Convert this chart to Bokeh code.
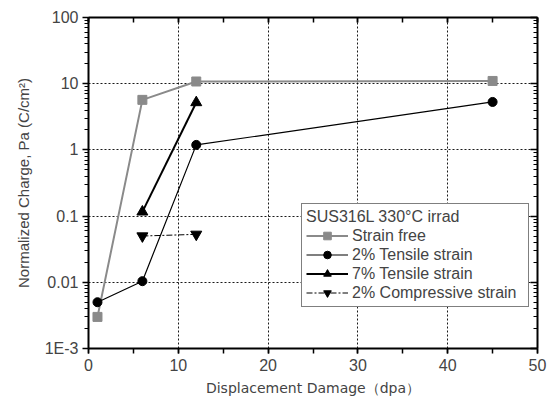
from bokeh.plotting import figure
from bokeh.models import (LogAxis, LinearAxis, FixedTicker, SingleIntervalTicker,
                          Legend, LegendItem, Range1d, CustomJSTickFormatter)
from bokeh.embed import file_html
from bokeh.resources import INLINE

# Normalized charge Pa (C/cm^2) vs displacement damage (dpa), SUS316L irradiated at 330 C
free_dpa = [1, 6, 12, 45]
free_pa = [0.003, 5.7, 10.8, 11.0]

tens2_dpa = [1, 6, 12, 45]
tens2_pa = [0.005, 0.0104, 1.19, 5.3]

tens7_dpa = [6, 12]
tens7_pa = [0.116, 5.2]

comp2_dpa = [6, 12]
comp2_pa = [0.050, 0.053]

y_ticks = [0.001, 0.01, 0.1, 1, 10, 100]
y_tick_labels = ["1E-3", "0.01", "0.1", "1", "10", "100"]

legend_title = "SUS316L 330°C irrad"
series_names = ["Strain free", "2% Tensile strain", "7% Tensile strain", "2% Compressive strain"]

y_minor = [m * 10.0 ** e for e in range(-3, 2) for m in range(2, 10)]

p = figure(width=551, height=405, output_backend="svg", toolbar_location=None,
           y_axis_type="log", x_range=Range1d(0, 50), y_range=Range1d(0.001, 100),
           min_border_left=88, min_border_right=14, min_border_top=17, min_border_bottom=57)
p.outline_line_color = None
p.background_fill_color = "white"

TICK_FONT = "Liberation Sans"
TITLE_FONT = "DejaVu Sans"

# bottom axis
xa = p.xaxis[0]
xa.ticker = SingleIntervalTicker(interval=10, num_minor_ticks=2)
xa.axis_label = "Displacement Damage（dpa）"
xa.axis_label_text_font = TITLE_FONT
xa.axis_label_text_font_style = "normal"
xa.axis_label_text_font_size = "14px"
xa.axis_label_standoff = 6
xa.major_label_text_font = TICK_FONT
xa.major_label_text_font_size = "16px"
xa.major_label_standoff = 5
xa.major_tick_in = 0
xa.major_tick_out = 5
xa.minor_tick_in = 0
xa.minor_tick_out = 5
xa.axis_line_width = 2
xa.major_tick_line_width = 1.5
xa.minor_tick_line_width = 1.5

# left axis
ya = p.yaxis[0]
ya.ticker = FixedTicker(ticks=y_ticks, minor_ticks=y_minor)
ya.major_label_overrides = {t: l for t, l in zip(y_ticks, y_tick_labels)}
ya.axis_label = "Normalized Charge, Pa (C/cm²)"
ya.axis_label_text_font = TICK_FONT
ya.axis_label_text_font_style = "normal"
ya.axis_label_text_font_size = "15px"
ya.axis_label_standoff = 10
ya.major_label_text_font = TICK_FONT
ya.major_label_text_font_size = "16px"
ya.major_label_standoff = 4
ya.major_tick_in = 0
ya.major_tick_out = 6
ya.minor_tick_in = 0
ya.minor_tick_out = 4
ya.axis_line_width = 2
ya.major_tick_line_width = 1.5

# top and right frame axes with inward ticks and no labels
top = LinearAxis(ticker=SingleIntervalTicker(interval=10, num_minor_ticks=2),
                 formatter=CustomJSTickFormatter(code="return ''"), major_label_standoff=0,
                 major_tick_in=5, major_tick_out=0,
                 minor_tick_in=5, minor_tick_out=0, axis_line_width=2,
                 major_tick_line_width=1.5, minor_tick_line_width=1.5)
p.add_layout(top, "above")
right = LogAxis(ticker=FixedTicker(ticks=y_ticks, minor_ticks=y_minor),
                formatter=CustomJSTickFormatter(code="return ''"), major_label_standoff=0,
                major_tick_in=7, major_tick_out=0,
                minor_tick_in=4, minor_tick_out=0, axis_line_width=2,
                major_tick_line_width=1.5, minor_tick_line_width=1.2)
p.add_layout(right, "right")

# dotted grid
p.xgrid.ticker = FixedTicker(ticks=[10, 20, 30, 40])
p.ygrid.ticker = FixedTicker(ticks=[0.01, 0.1, 1, 10])
for g in (p.xgrid[0], p.ygrid[0]):
    g.grid_line_color = "black"
    g.grid_line_dash = "2 2"
    g.grid_line_width = 1
    g.grid_line_alpha = 0.9

GRAY = "#8a8a8a"

l1 = p.line(free_dpa, free_pa, line_color=GRAY, line_width=2)
s1 = p.scatter(free_dpa, free_pa, marker="square", size=9, fill_color=GRAY, line_color=GRAY)

l2 = p.line(tens2_dpa, tens2_pa, line_color="black", line_width=1.2)
s2 = p.scatter(tens2_dpa, tens2_pa, marker="circle", size=9, fill_color="black", line_color="black")

l3 = p.line(tens7_dpa, tens7_pa, line_color="black", line_width=2)
s3 = p.scatter(tens7_dpa, tens7_pa, marker="triangle", size=11, fill_color="black", line_color="black")

l4 = p.line(comp2_dpa, comp2_pa, line_color="black", line_width=1, line_dash="6 2 2 2")
s4 = p.scatter(comp2_dpa, comp2_pa, marker="inverted_triangle", size=11, fill_color="black", line_color="black")

items = [LegendItem(label=n, renderers=r) for n, r in
         zip(series_names, [[l1, s1], [l2, s2], [l3, s3], [l4, s4]])]
legend = Legend(items=items, title=legend_title, location=(213, 41),
                title_text_font=TICK_FONT, title_text_font_size="16px",
                title_text_font_style="normal", title_standoff=0,
                label_text_font=TICK_FONT, label_text_font_size="16px",
                label_height=19, glyph_height=19, glyph_width=42, label_width=172,
                label_standoff=4, spacing=0, padding=4, margin=0,
                border_line_color="black", border_line_width=1,
                background_fill_alpha=1.0)
p.add_layout(legend, "center")

open("out.html", "w").write(file_html(p, INLINE))
